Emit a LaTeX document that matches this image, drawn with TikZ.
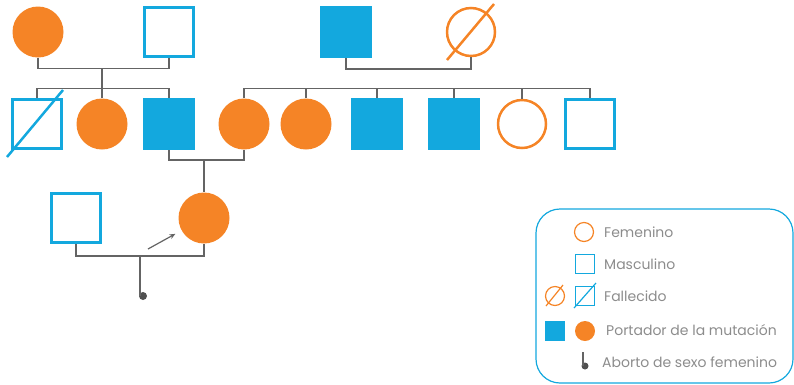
\documentclass[tikz,border=0pt]{standalone}
\usepackage{fontspec}
\setmainfont{Poppins}
\usetikzlibrary{arrows.meta}
\definecolor{naranja}{RGB}{245,132,38}
\definecolor{azul}{RGB}{19,168,222}
\definecolor{linea}{RGB}{100,100,100}
\definecolor{texto}{RGB}{140,140,140}
\begin{document}
\begin{tikzpicture}[x=1pt, y=-1pt,
    mujer/.style={circle, inner sep=0pt, minimum size=51pt, fill=naranja},
    mujerv/.style={circle, inner sep=0pt, minimum size=48pt, draw=naranja, line width=2.5pt},
    hombre/.style={rectangle, inner sep=0pt, minimum size=52pt, fill=azul},
    hombrev/.style={rectangle, inner sep=0pt, minimum size=49pt, draw=azul, line width=2.5pt},
    union/.style={draw=linea, line width=1.5pt},
    cruz/.style={line width=2.5pt},
    punto/.style={circle, inner sep=0pt, minimum size=8pt, fill=linea!80!black},
    leyenda/.style={anchor=west, inner sep=0pt, font=\fontsize{14}{16}\selectfont, text=texto}]
    \useasboundingbox (0,0) rectangle (794,384);

    \node[mujer] (a1) at (38,32) {};
    \node[hombrev] (a2) at (169,32) {};
    \node[hombre] (a3) at (346,32) {};
    \node[mujerv] (a4) at (471,32) {};
    \draw[naranja, cruz] ([shift={(-24,28)}]a4.center) -- ([shift={(23,-28)}]a4.center);

    \node[hombrev] (b1) at (37,124) {};
    \draw[azul, cruz] ([shift={(-30,33)}]b1.center) -- ([shift={(26,-34)}]b1.center);
    \node[mujer] (b2) at (102,124) {};
    \node[hombre] (b3) at (169,124) {};
    \node[mujer] (c1) at (244,124) {};
    \node[mujer] (c2) at (306,124) {};
    \node[hombre] (c3) at (377,124) {};
    \node[hombre] (c4) at (454,124) {};
    \node[mujerv] (c5) at (522,124) {};
    \node[hombrev] (c6) at (590,124) {};

    \node[hombrev] (d1) at (76,218) {};
    \node[mujer] (d2) at (204,218) {};
    \node[punto] (ab) at (143,296) {};

    \coordinate (h1) at (102,68);
    \coordinate (s1) at (102,88);
    \coordinate (h3) at (204,160);
    \coordinate (h4) at (140,256);
    \coordinate (flecha) at (148,249);

    \draw[union] (a1.south) -- ++(0,11) -| (a2.south);
    \draw[union] (a3.south) -- ++(0,11) -| (a4.south);
    \draw[union] (h1) -- (s1);
    \draw[union] (b1.north) -- ++(0,-10) -| (b3.north);
    \draw[union] (b2.north) -- (b2.north |- s1);
    \draw[union] (c1.north) -- ++(0,-10) -| (c6.north);
    \foreach \n in {c2,c3,c4,c5}
        \draw[union] (\n.north) -- (\n.north |- s1);
    \draw[union] (b3.south) -- ++(0,10) -| (c1.south);
    \draw[union] (h3) -- (d2.north);
    \draw[union] (d1.south) -- ++(0,12) -| (d2.south);
    \draw[union] (h4) -- (h4 |- ab.center);
    \draw[linea, line width=1.2pt, -{Stealth[length=6pt, width=5pt]}, shorten >=7pt] (flecha) -- (d2);

    \draw[azul, line width=1.2pt, rounded corners=24pt] (536,209) rectangle (793,383);

    \node[circle, minimum size=19pt, inner sep=0pt, draw=naranja, line width=1.2pt] (lf) at (584,232) {};
    \node[leyenda] (tf) at (604,232) {Femenino};
    \node[rectangle, minimum size=19pt, inner sep=0pt, draw=azul, line width=1.2pt] (lm) at (585,264) {};
    \node[leyenda] (tm) at (604,264) {Masculino};
    \node[circle, minimum size=19pt, inner sep=0pt, draw=naranja, line width=1.2pt] (ldf) at (555,296) {};
    \draw[naranja, line width=1.2pt] (546,306) -- (563,285);
    \node[rectangle, minimum size=19pt, inner sep=0pt, draw=azul, line width=1.2pt] (ldm) at (585,296) {};
    \draw[azul, line width=1.2pt] (574,308) -- (596,283);
    \node[leyenda] (td) at (604,296) {Fallecido};
    \node[rectangle, minimum size=20pt, inner sep=0pt, fill=azul] (lpm) at (555,331) {};
    \node[circle, minimum size=20pt, inner sep=0pt, fill=naranja] (lpf) at (585,331) {};
    \node[leyenda] (tp) at (606,330) {Portador de la mutación};
    \node[circle, minimum size=7pt, inner sep=0pt, fill=linea!80!black] (lab) at (585,366) {};
    \draw[union] (583,352) -- (583,366);
    \node[leyenda] (ta) at (602,362) {Aborto de sexo femenino};
\end{tikzpicture}
\end{document}
